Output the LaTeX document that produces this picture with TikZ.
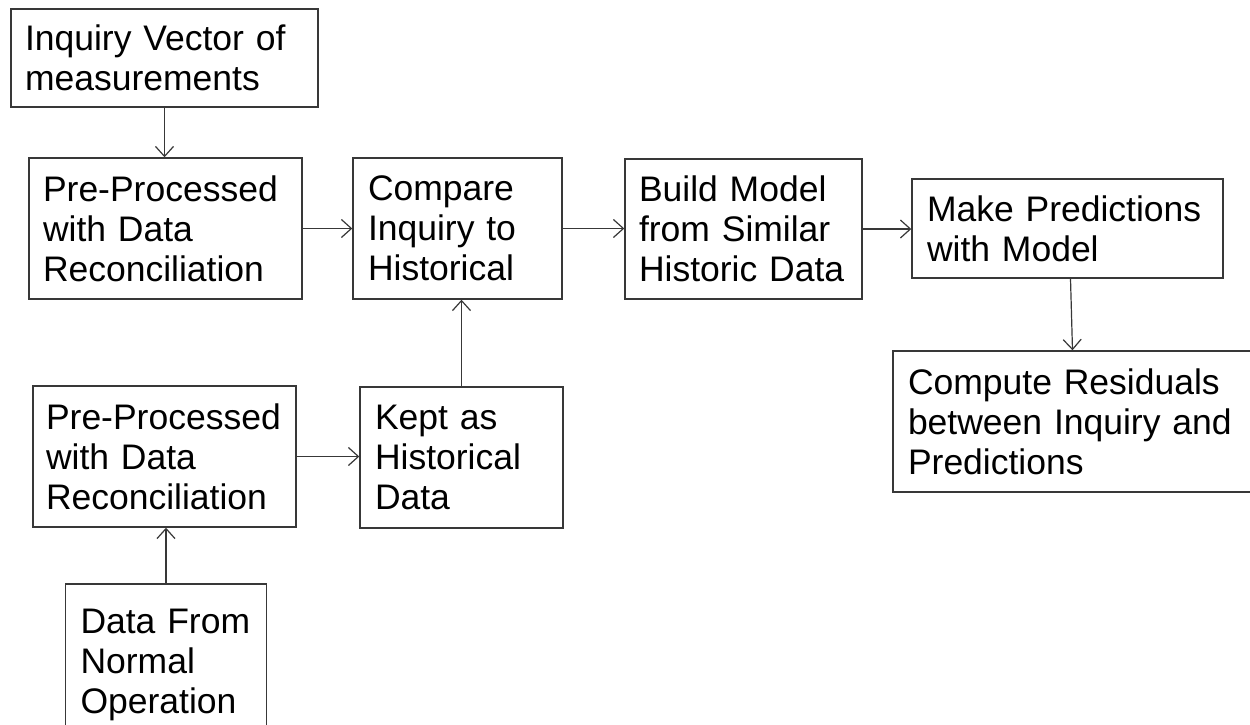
\documentclass[tikz,border=0pt]{standalone}
\usepackage{fontspec}
\setmainfont{Liberation Sans}
\usetikzlibrary{arrows.meta}
\definecolor{edge}{HTML}{383838}
% box lettering: Arial-width face with a slightly narrower interword space
\newcommand{\boxfont}{\fontsize{35.5}{40}\selectfont\fontdimen2\font=0.19em\relax}
\begin{document}
\begin{tikzpicture}[x=1pt,y=-1pt,
  box/.style n args={3}{draw=edge, line width=1.4pt, minimum width=#1pt,
    minimum height=#2pt, text width=#3pt, inner xsep=0pt, inner ysep=0pt,
    align=left, font=\boxfont, text=black},
  flow/.style={draw=edge, line width=1.2pt,
    -{Straight Barb[length=10pt,width=18pt,line width=1.2pt]}}]
\useasboundingbox (0,0) rectangle (1250,724);
\fill[white] (0,0) rectangle (1250,724);

% inquiry branch
\node[box={307}{98}{279}]  (B1) at (164.5,58)    {Inquiry Vector of\\measurements};
\node[box={273}{141}{245}] (B2) at (165.5,228.5) {Pre-Processed\\with Data\\Reconciliation};
\node[box={209}{141}{179}] (B3) at (457.5,228.5) {Compare\\Inquiry to\\Historical};
\node[box={237}{140}{209}] (B4) at (743.5,229)   {Build Model\\from Similar\\Historic Data};
\node[box={311}{99}{281}]  (B5) at (1067.5,228.5){Make Predictions\\with Model};
\node[box={365}{141}{335}] (B6) at (1075.5,421.5){Compute Residuals\\between Inquiry and\\Predictions};

% historical branch
\node[box={263}{141}{237}] (B7) at (164.5,456.5) {Pre-Processed\\with Data\\Reconciliation};
\node[box={203}{141}{173}] (B8) at (461.5,457.5) {Kept as\\Historical\\Data};
\node[box={201}{162}{171}] (B9) at (166,665)     {Data From\\Normal\\Operation};

% connectors
\draw[flow] (B1.south) -- (B1.south |- B2.north);
\draw[flow] (B2.east) -- (B3.west);
\draw[flow] (B3.east) -- (B3.east -| B4.west);
\draw[flow] (B4.east) -- (B4.east -| B5.west);
\draw[flow] ([xshift=3pt]B5.south) -- ([xshift=-3pt]B6.north);
\draw[flow] (B7.east) -- (B7.east -| B8.west);
\draw[flow] (B8.north) -- (B8.north |- B3.south);
\draw[flow] (B9.north) -- (B9.north |- B7.south);
\end{tikzpicture}
\end{document}
